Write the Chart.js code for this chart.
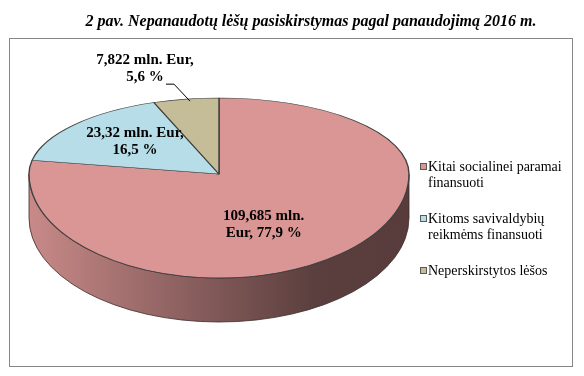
<!DOCTYPE html>
<html>
<head>
<meta charset="utf-8">
<script src="https://cdn.jsdelivr.net/npm/chart.js@4.4.1/dist/chart.umd.min.js"></script>
<style>
  html, body { margin: 0; background: #fff; }
  #wrap { width: 584px; height: 376px; }
</style>
</head>
<body>
<div id="wrap"><canvas id="pie3d" width="584" height="376"></canvas></div>
<script>
// ── Nepanaudotų lėšų pasiskirstymas 2016 m. — 3D pyragas ──

const TITLE      = '2 pav. Nepanaudotų lėšų pasiskirstymas pagal panaudojimą 2016 m.';
const categories = ['Kitai socialinei paramai finansuoti', 'Kitoms savivaldybių reikmėms finansuoti', 'Neperskirstytos lėšos'];
const amounts    = [109.685, 23.32, 7.822];   // mln. Eur
const shares     = [77.9, 16.5, 5.6];         // % (kaip paveiksle)
const colors     = ['#D99694', '#B7DEE8', '#C4BD97'];

// where the flattened pie sits on the canvas (back half squashed more -> perspective)
const PIE = { cx: 219, cy: 174, rx: 190, ryUp: 76, ryDown: 104, depth: 44 };
// label placement: fraction of radius + nudge; small slices get a leader line
const LABEL_POS = [
  { f: 0.45, dx: -10, dy: 15 },
  { f: 0.62, dx: 6,   dy: -2 },
  { outside: true }
];

const SERIF = '"Liberation Serif", "Times New Roman", serif';

function shade(hex, k) {
  const n = parseInt(hex.slice(1), 16);
  const r = Math.round(((n >> 16) & 255) * k), g = Math.round(((n >> 8) & 255) * k), b = Math.round((n & 255) * k);
  return `rgb(${r},${g},${b})`;
}

function fmt(v) { return String(v).replace('.', ','); }

function wrap(ctx, text, maxW) {
  const words = text.split(' ');
  const lines = [];
  let cur = '';
  words.forEach(w => {
    const t = cur ? cur + ' ' + w : w;
    if (cur && ctx.measureText(t).width > maxW) { lines.push(cur); cur = w; } else cur = t;
  });
  if (cur) lines.push(cur);
  return lines;
}

// point on the top face for a given angle and fraction of radius
function facePoint(angle, f) {
  const s = Math.sin(angle);
  const ry = s < 0 ? PIE.ryUp : PIE.ryDown;
  return { x: PIE.cx + PIE.rx * f * Math.cos(angle), y: PIE.cy + ry * f * s };
}

// frame + title behind everything
const framePlugin = {
  id: 'frame',
  beforeDraw(chart) {
    const ctx = chart.ctx;
    ctx.save();
    ctx.fillStyle = '#fff';
    ctx.fillRect(0, 0, chart.width, chart.height);
    ctx.strokeStyle = '#868686';
    ctx.lineWidth = 1;
    ctx.strokeRect(9.5, 38.5, 563, 328);
    ctx.fillStyle = '#000';
    ctx.font = 'italic bold 16px ' + SERIF;
    ctx.textAlign = 'center';
    ctx.textBaseline = 'middle';
    ctx.fillText(TITLE, 311, 22);
    ctx.restore();
  }
};

function squash(ctx, arc, ry) {
  const R = arc.outerRadius;
  ctx.translate(PIE.cx, PIE.cy);
  ctx.scale(PIE.rx / R, ry / R);
  ctx.translate(-arc.x, -arc.y);
}

// side wall + squash the library's circle into an ellipse
const pie3dPlugin = {
  id: 'pie3d',
  beforeDatasetsDraw(chart) {
    const ctx  = chart.ctx;
    const meta = chart.getDatasetMeta(0);
    const { cx, cy, rx, ryDown, depth } = PIE;

    meta.data.forEach((arc, i) => {
      const a = Math.max(arc.startAngle, 0);
      const b = Math.min(arc.endAngle, Math.PI);
      if (a >= b) return;
      const col = colors[i];
      const grad = ctx.createLinearGradient(cx - rx, 0, cx + rx, 0);
      grad.addColorStop(0,    shade(col, 0.92));
      grad.addColorStop(0.5,  shade(col, 0.58));
      grad.addColorStop(0.75, shade(col, 0.42));
      grad.addColorStop(1,    shade(col, 0.40));
      ctx.save();
      ctx.beginPath();
      ctx.ellipse(cx, cy, rx, ryDown, 0, a, b);
      ctx.ellipse(cx, cy + depth, rx, ryDown, 0, b, a, true);
      ctx.closePath();
      ctx.fillStyle = grad;
      ctx.fill();
      ctx.strokeStyle = '#3a2a2a';
      ctx.lineWidth = 0.8;
      ctx.stroke();
      ctx.restore();
    });

    // back half of the top face: drawn by Chart.js itself
    ctx.save();
    ctx.beginPath();
    ctx.rect(0, 0, chart.width, cy);
    ctx.clip();
    squash(ctx, meta.data[0], PIE.ryUp);
  },
  afterDatasetsDraw(chart) {
    const ctx  = chart.ctx;
    ctx.restore();
    const meta = chart.getDatasetMeta(0);

    // front half of the top face
    ctx.save();
    ctx.beginPath();
    ctx.rect(0, PIE.cy, chart.width, chart.height - PIE.cy);
    ctx.clip();
    squash(ctx, meta.data[0], PIE.ryDown);
    meta.data.forEach(arc => arc.draw(ctx));
    ctx.restore();

    // data labels
    ctx.save();
    ctx.font = 'bold 15px ' + SERIF;
    ctx.fillStyle = '#000';
    ctx.textAlign = 'center';
    ctx.textBaseline = 'middle';
    const lh = 17;

    meta.data.forEach((arc, i) => {
      const mid = (arc.startAngle + arc.endAngle) / 2;
      const text = fmt(amounts[i]) + ' mln. Eur, ' + fmt(shares[i]) + ' %';
      const lines = wrap(ctx, text, 104);
      const p = LABEL_POS[i];
      if (p.outside) {
        const e = facePoint(mid, 1);
        const ex = e.x + 4, ey = e.y + 2;
        const kx = ex - 16, ky = ey - 17;
        const tx = kx - 8;
        ctx.beginPath();
        ctx.moveTo(ex, ey);
        ctx.lineTo(kx, ky);
        ctx.lineTo(tx, ky);
        ctx.strokeStyle = '#000';
        ctx.lineWidth = 1;
        ctx.stroke();
        const centerX = tx - 21;
        lines.forEach((ln, j) => {
          ctx.fillText(ln, centerX, ky - 7 - (lines.length - 1 - j) * lh);
        });
      } else {
        const q = facePoint(mid, p.f);
        const x = q.x + p.dx, y = q.y + p.dy;
        lines.forEach((ln, j) => {
          ctx.fillText(ln, x, y + (j - (lines.length - 1) / 2) * lh);
        });
      }
    });
    ctx.restore();
  }
};

// legend on the right, wrapped like the original
const legendPlugin = {
  id: 'sideLegend',
  afterDraw(chart) {
    const ctx = chart.ctx;
    ctx.save();
    ctx.font = '14px ' + SERIF;
    ctx.textBaseline = 'middle';
    ctx.textAlign = 'left';
    const lh = 16, gap = 20, boxX = 420, textX = 428;
    let y = 159;
    categories.forEach((name, i) => {
      const lines = wrap(ctx, name, 140);
      const y0 = y + lh / 2;
      ctx.fillStyle = colors[i];
      ctx.fillRect(boxX + 0.5, y0 - 3.5, 6, 6);
      ctx.strokeStyle = '#595959';
      ctx.lineWidth = 1;
      ctx.strokeRect(boxX + 0.5, y0 - 3.5, 6, 6);
      ctx.fillStyle = '#000';
      lines.forEach((ln, j) => ctx.fillText(ln, textX, y0 + j * lh));
      y += lines.length * lh + gap;
    });
    ctx.restore();
  }
};

new Chart(document.getElementById('pie3d'), {
  type: 'pie',
  data: {
    labels: categories,
    datasets: [{
      data: amounts,
      backgroundColor: colors,
      borderColor: '#404040',
      borderWidth: 1.4,
      clip: false
    }]
  },
  options: {
    responsive: false,
    animation: false,
    events: [],
    layout: { padding: 0 },
    plugins: { legend: { display: false }, tooltip: { enabled: false } }
  },
  plugins: [framePlugin, pie3dPlugin, legendPlugin]
});
</script>
</body>
</html>
